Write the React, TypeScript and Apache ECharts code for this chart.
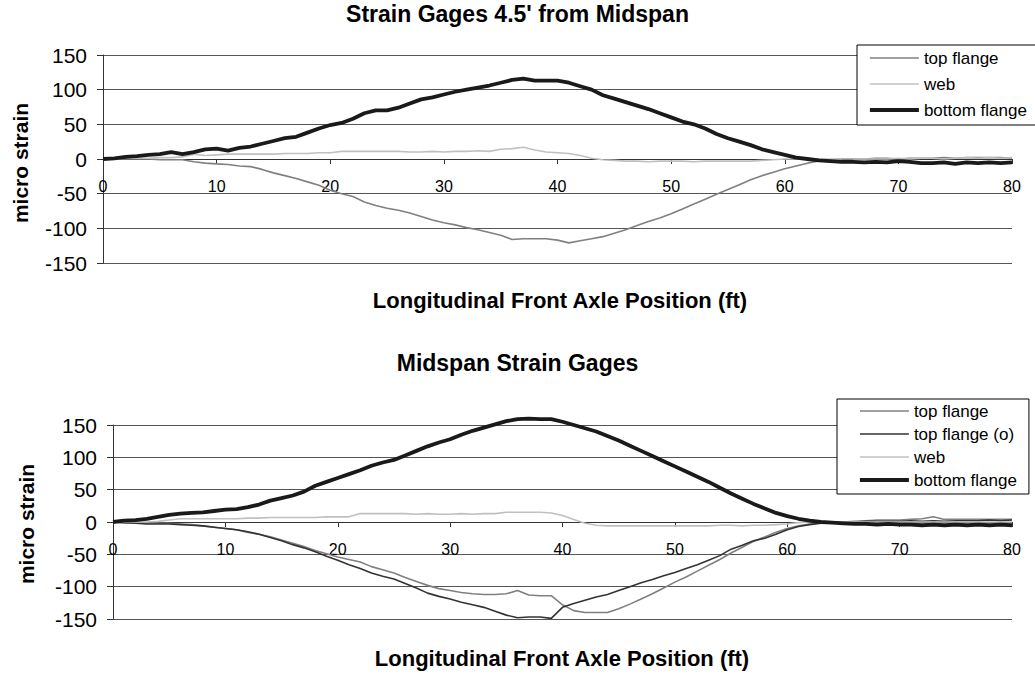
import React, { useEffect, useRef } from 'react';
import * as echarts from 'echarts';

const POSITIONS = [
  0, 1, 2, 3, 4, 5, 6, 7, 8, 9,
  10, 11, 12, 13, 14, 15, 16, 17, 18, 19,
  20, 21, 22, 23, 24, 25, 26, 27, 28, 29,
  30, 31, 32, 33, 34, 35, 36, 37, 38, 39,
  40, 41, 42, 43, 44, 45, 46, 47, 48, 49,
  50, 51, 52, 53, 54, 55, 56, 57, 58, 59,
  60, 61, 62, 63, 64, 65, 66, 67, 68, 69,
  70, 71, 72, 73, 74, 75, 76, 77, 78, 79,
  80,
];

const X_TICKS = [0, 10, 20, 30, 40, 50, 60, 70, 80];
const Y_TICKS = [-150, -100, -50, 0, 50, 100, 150];

// Chart 1: Strain Gages 4.5' from Midspan
const TOP_FLANGE_1 = [
  0, 0, 0, 0, 0, -1, -1, -1, -4, -6,
  -7, -8, -10, -11, -15, -20, -24, -28, -33, -38,
  -45, -50, -54, -62, -67, -71, -74, -78, -83, -88,
  -92, -95, -99, -102, -106, -110, -116, -115, -115, -115,
  -117, -121, -118, -115, -112, -107, -102, -96, -90, -85,
  -79, -72, -65, -58, -51, -44, -37, -30, -24, -19,
  -14, -10, -6, -3, -1, 0, 0, 0, 1, 1,
  0, 1, 1, 1, 2, 1, 2, 2, 2, 2,
  1,
];
const WEB_1 = [
  0, 0, 1, 1, 1, 2, 2, 3, 7, 5,
  6, 7, 7, 7, 7, 7, 8, 8, 8, 9,
  9, 11, 11, 11, 11, 11, 11, 10, 10, 11,
  10, 11, 11, 12, 11, 14, 15, 17, 13, 10,
  9, 8, 5, 1, -1, -2, -3, -3, -4, -3,
  -3, -3, -4, -3, -3, -3, -3, -3, -2, -1,
  0, 0, 0, 0, 0, 0, 0, 0, 0, 0,
  1, 0, 1, 1, 0, 1, 2, 1, 2, 1,
  2,
];
const BOTTOM_FLANGE_1 = [
  0, 1, 3, 4, 6, 7, 10, 7, 10, 14,
  15, 12, 16, 18, 22, 26, 30, 32, 38, 44,
  49, 52, 58, 66, 70, 70, 74, 80, 86, 89,
  93, 97, 100, 103, 106, 110, 114, 116, 113, 113,
  113, 110, 105, 100, 92, 87, 82, 77, 72, 66,
  60, 54, 50, 44, 36, 30, 25, 20, 14, 10,
  6, 2, 0, -2, -3, -4, -4, -5, -4, -5,
  -3, -4, -6, -6, -5, -7, -5, -6, -5, -6,
  -5,
];

// Chart 2: Midspan Strain Gages
const TOP_FLANGE_2 = [
  0, -1, -1, -2, -2, -2, -3, -4, -6, -8,
  -10, -12, -16, -19, -23, -28, -33, -38, -44, -49,
  -54, -58, -62, -69, -74, -79, -86, -92, -98, -103,
  -106, -109, -111, -112, -112, -111, -106, -113, -114, -114,
  -128, -137, -140, -140, -140, -134, -127, -119, -111, -102,
  -93, -85, -76, -67, -58, -48, -39, -30, -23, -16,
  -10, -6, -3, -1, 0, 0, 1, 2, 3, 3,
  3, 4, 5, 8, 4, 4, 4, 4, 4, 4,
  4,
];
const TOP_FLANGE_O_2 = [
  0, -1, -2, -3, -3, -3, -4, -5, -6, -8,
  -10, -12, -15, -19, -24, -29, -35, -40, -46, -53,
  -59, -66, -72, -79, -84, -88, -95, -102, -110, -115,
  -119, -124, -128, -132, -138, -144, -148, -147, -147, -149,
  -132, -126, -121, -116, -112, -106, -100, -94, -89, -83,
  -78, -72, -66, -59, -52, -42, -36, -29, -25, -19,
  -12, -7, -4, -2, -1, 0, 0, 1, 1, 1,
  1, 2, 1, 2, 1, 2, 2, 2, 3, 2,
  3,
];
const WEB_2 = [
  0, 0, 0, 0, 1, 3, 5, 5, 5, 5,
  5, 5, 6, 6, 7, 7, 7, 7, 7, 8,
  8, 8, 13, 13, 13, 13, 13, 12, 13, 12,
  12, 13, 12, 13, 13, 15, 15, 15, 15, 14,
  10, 4, -2, -5, -6, -6, -6, -6, -6, -6,
  -6, -6, -6, -6, -5, -5, -6, -5, -5, -4,
  -3, -1, 0, 0, 0, 0, 0, 0, 0, 0,
  0, 0, 0, 0, 0, 0, 0, 0, 0, 0,
  0,
];
const BOTTOM_FLANGE_2 = [
  0, 2, 3, 5, 8, 11, 13, 14, 15, 17,
  19, 20, 23, 27, 33, 37, 41, 47, 56, 62,
  68, 74, 80, 87, 92, 96, 103, 110, 117, 123,
  128, 135, 141, 146, 151, 156, 159, 160, 159, 159,
  155, 150, 145, 140, 133, 126, 118, 110, 102, 94,
  86, 78, 70, 62, 53, 44, 36, 28, 21, 14,
  9, 5, 2, 0, -1, -2, -3, -3, -4, -3,
  -4, -4, -5, -4, -5, -4, -5, -4, -5, -4,
  -5,
];

const TITLE_1 = "Strain Gages 4.5' from Midspan";
const TITLE_2 = 'Midspan Strain Gages';
const X_NAME = 'Longitudinal Front Axle Position (ft)';
const Y_NAME = 'micro strain';
const LEGEND_1 = ['top flange', 'web', 'bottom flange'];
const LEGEND_2 = ['top flange', 'top flange (o)', 'web', 'bottom flange'];

const FONT = '"Liberation Sans", Arial, Helvetica, sans-serif';
const C_TOP = '#808080';
const C_TOP_O = '#333333';
const C_WEB = '#c0c0c0';
const C_BOTTOM = '#1a1a1a';

function pairs(ys: number[]) {
  return POSITIONS.map((x, i) => [x, ys[i]]);
}

export default function App() {
  const ref = useRef<HTMLDivElement>(null);

  useEffect(() => {
    if (!ref.current) return;
    const chart = echarts.init(ref.current, null, { renderer: 'svg' });

    const GRID_1 = { left: 103, top: 55, width: 909, height: 208 };
    const GRID_2 = { left: 113, top: 425, width: 899, height: 194 };

    const xAxisFor = (gridIndex: number, gridHeight: number) => ({
      type: 'value',
      gridIndex,
      position: 'bottom',
      // place the axis on the zero line of the -150..150 range
      offset: -gridHeight * (0 - Y_TICKS[0]) / (Y_TICKS[Y_TICKS.length - 1] - Y_TICKS[0]),
      min: X_TICKS[0],
      max: X_TICKS[X_TICKS.length - 1],
      interval: X_TICKS[1] - X_TICKS[0],
      axisLine: { show: true, onZero: false, lineStyle: { color: '#333', width: 1 } },
      axisTick: { show: true, length: 5, inside: false, lineStyle: { color: '#333' } },
      axisLabel: { fontSize: 16, color: '#000', fontFamily: FONT, margin: 19 },
      splitLine: { show: false },
    });
    const yAxisFor = (gridIndex: number) => ({
      type: 'value',
      gridIndex,
      min: Y_TICKS[0],
      max: Y_TICKS[Y_TICKS.length - 1],
      interval: Y_TICKS[1] - Y_TICKS[0],
      axisLine: { show: true, onZero: false, lineStyle: { color: '#333', width: 1 } },
      axisTick: { show: true, length: 6, lineStyle: { color: '#333' } },
      axisLabel: { fontSize: 21, color: '#000', fontFamily: FONT, margin: 16 },
      splitLine: { show: true, lineStyle: { color: '#555', width: 1 } },
    });
    const line = (name: string, data: number[], color: string, width: number, idx: number) => ({
      type: 'line',
      name,
      xAxisIndex: idx,
      yAxisIndex: idx,
      data: pairs(data),
      symbol: 'none',
      showSymbol: false,
      clip: false,
      lineStyle: { color, width },
      itemStyle: { color },
      z: 3,
    });
    const legendFor = (data: string[], left: number, top: number, gap: number, pad: number[]) => ({
      orient: 'vertical',
      left,
      top,
      data,
      itemWidth: 49,
      itemHeight: 14,
      itemGap: gap,
      padding: pad,
      borderColor: '#000',
      borderWidth: 1,
      backgroundColor: '#fff',
      selectedMode: false,
      itemStyle: { color: 'rgba(0,0,0,0)', opacity: 0, borderWidth: 0 },
      lineStyle: { width: 'inherit' },
      textStyle: { fontSize: 17, color: '#000', fontFamily: FONT, lineHeight: 18 },
    });

    const titleStyle = { fontSize: 23, fontWeight: 'bold', fontFamily: FONT, color: '#000' };
    const nameFont = `bold 22px ${FONT}`;

    chart.setOption({
      animation: false,
      backgroundColor: '#fff',
      title: [
        { text: TITLE_1, left: 'center', top: 2, padding: 0, textStyle: titleStyle },
        { text: TITLE_2, left: 'center', top: 351, padding: 0, textStyle: titleStyle },
      ],
      grid: [
        { ...GRID_1, containLabel: false },
        { ...GRID_2, containLabel: false },
      ],
      xAxis: [xAxisFor(0, GRID_1.height), xAxisFor(1, GRID_2.height)],
      yAxis: [yAxisFor(0), yAxisFor(1)],
      legend: [
        legendFor(LEGEND_1, 857, 45, 8, [4, 9, 6, 11]),
        legendFor(LEGEND_2, 837, 399, 5, [3, 12, 5, 21]),
      ],
      series: [
        line('top flange', TOP_FLANGE_1, C_TOP, 1.6, 0),
        line('web', WEB_1, C_WEB, 1.6, 0),
        line('bottom flange', BOTTOM_FLANGE_1, C_BOTTOM, 3.8, 0),
        line('top flange', TOP_FLANGE_2, C_TOP, 1.6, 1),
        line('top flange (o)', TOP_FLANGE_O_2, C_TOP_O, 1.6, 1),
        line('web', WEB_2, C_WEB, 1.6, 1),
        line('bottom flange', BOTTOM_FLANGE_2, C_BOTTOM, 3.8, 1),
      ],
      graphic: [
        {
          type: 'text', x: 560, y: 300,
          style: { text: X_NAME, font: nameFont, fill: '#000', align: 'center', verticalAlign: 'middle', textAlign: 'center', textVerticalAlign: 'middle' },
        },
        {
          type: 'text', x: 562, y: 658,
          style: { text: X_NAME, font: nameFont, fill: '#000', align: 'center', verticalAlign: 'middle', textAlign: 'center', textVerticalAlign: 'middle' },
        },
        {
          type: 'text', x: 20, y: 163, rotation: Math.PI / 2,
          style: { text: Y_NAME, font: `bold 21px ${FONT}`, fill: '#000', align: 'center', verticalAlign: 'middle', textAlign: 'center', textVerticalAlign: 'middle' },
        },
        {
          type: 'text', x: 26, y: 524, rotation: Math.PI / 2,
          style: { text: Y_NAME, font: `bold 21px ${FONT}`, fill: '#000', align: 'center', verticalAlign: 'middle', textAlign: 'center', textVerticalAlign: 'middle' },
        },
      ],
    });

    return () => chart.dispose();
  }, []);

  return <div ref={ref} style={{ position: 'absolute', left: 0, top: 0, width: 1035, height: 674 }} />;
}
